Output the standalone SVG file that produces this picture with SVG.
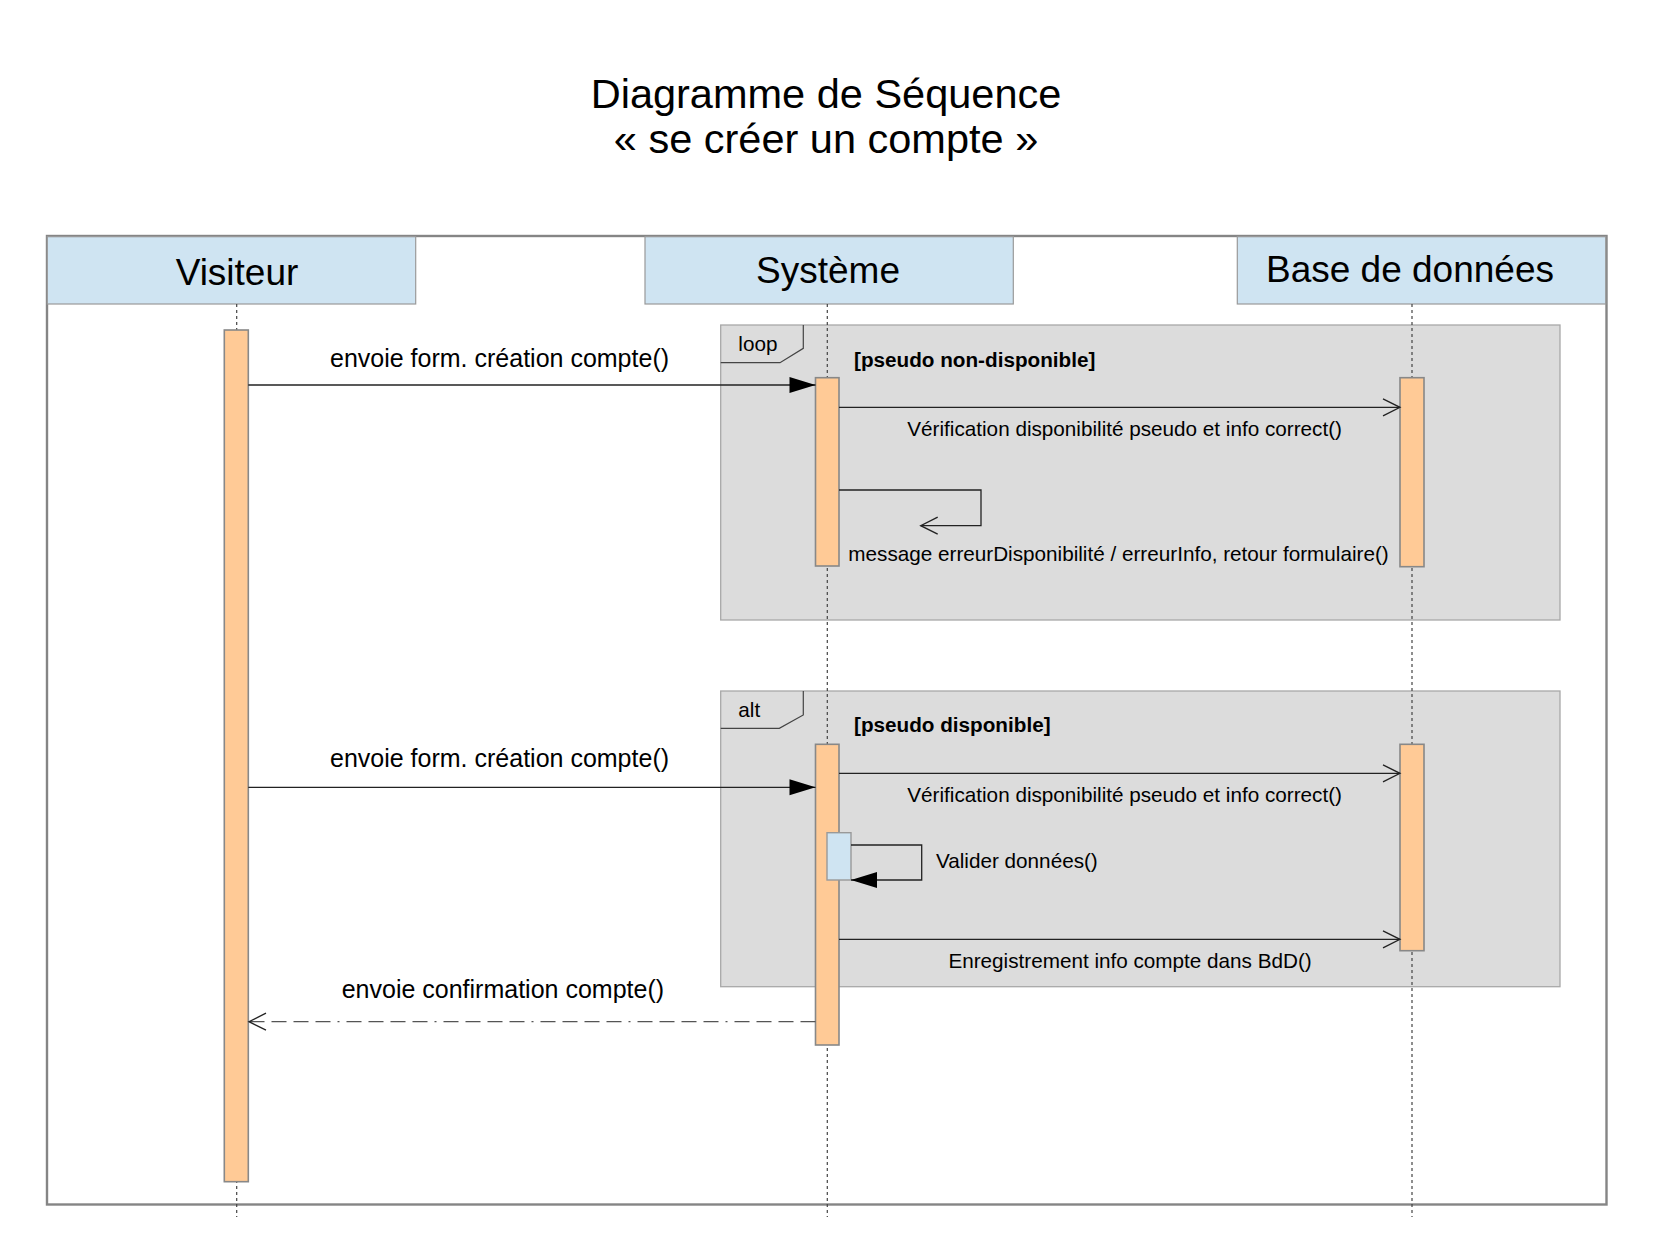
<svg xmlns="http://www.w3.org/2000/svg" width="1655" height="1240" viewBox="0 0 1655 1240">
<defs>
<style>
text{font-family:"Liberation Sans",Arial,sans-serif;fill:#000}
.title{font-size:41.5px;text-anchor:middle}
.head{font-size:37px;text-anchor:middle}
.hbox{fill:#cfe4f2;stroke:#999;stroke-width:1.2}
.msgL{font-size:25px}
.msgS{font-size:20.7px}
.guard{font-size:20.7px;font-weight:bold}
.frag{fill:#dcdcdc;stroke:#a8a8a8;stroke-width:1.3}
.tab{fill:none;stroke:#444;stroke-width:1.2}
.life{stroke:#444;stroke-width:1.2;stroke-dasharray:3,3;fill:none}
.act{fill:#ffca96;stroke:#888;stroke-width:1.6}
.actB{fill:#cfe4f2;stroke:#999;stroke-width:1.4}
.msg{stroke:#222;stroke-width:1.3;fill:none}
.ret{stroke:#555;stroke-width:1.3;fill:none;stroke-dasharray:15,7,15,7,15,7,15,7,2,7}
</style>
<marker id="filled" markerUnits="userSpaceOnUse" markerWidth="27" markerHeight="17" refX="26" refY="8" orient="auto" overflow="visible">
<path d="M0,0 L26,8 L0,16 Z" fill="#000"/>
</marker>
<marker id="open" markerUnits="userSpaceOnUse" markerWidth="18" markerHeight="18" refX="17" refY="9" orient="auto" overflow="visible">
<path d="M0,0.5 L17,9 L0,17.5" fill="none" stroke="#222" stroke-width="1.3"/>
</marker>
</defs>
<rect width="1655" height="1240" fill="#fff"/>
<g id="title">
<text class="title" x="826" y="108">Diagramme de Séquence</text>
<text class="title" x="826" y="153">« se créer un compte »</text>
</g>
<g id="frame">
<rect x="47" y="236" width="1559.5" height="968.5" fill="#fff" stroke="#858585" stroke-width="2.4"/>
</g>
<g id="fragments">
<g id="loop">
<rect class="frag" x="720.7" y="325" width="839.3" height="295"/>
<polyline class="tab" points="720.7,362.7 780,362.7 803.3,348.3 803.3,325"/>
<text class="msgS" x="738.3" y="350.7">loop</text>
<text class="guard" x="854" y="366.7">[pseudo non-disponible]</text>
</g>
<g id="alt">
<rect class="frag" x="720.7" y="691" width="839.3" height="295.7"/>
<polyline class="tab" points="720.7,728.3 779.3,728.3 803.3,715 803.3,691"/>
<text class="msgS" x="738.3" y="716.7">alt</text>
<text class="guard" x="854" y="732.3">[pseudo disponible]</text>
</g>
</g>
<g id="visiteur">
<rect class="hbox" x="47.3" y="236.7" width="368.4" height="67.3"/>
<text class="head" x="237" y="284.5">Visiteur</text>
<line class="life" x1="236.7" y1="304" x2="236.7" y2="1217"/>
<rect class="act" x="224.3" y="330" width="24" height="851.7"/>
</g>
<g id="systeme">
<rect class="hbox" x="645" y="236.7" width="368.3" height="67.3"/>
<text class="head" x="828" y="283">Système</text>
<line class="life" x1="827.3" y1="304" x2="827.3" y2="1217"/>
<rect class="act" x="815.5" y="377.7" width="23.5" height="188.3"/>
<rect class="act" x="815.5" y="744.3" width="23.5" height="300.7"/>
<rect class="actB" x="827" y="832.7" width="24" height="47.3"/>
</g>
<g id="bdd">
<rect class="hbox" x="1237.3" y="236.7" width="368.4" height="67.3"/>
<text class="head" x="1410" y="282">Base de données</text>
<line class="life" x1="1412" y1="304" x2="1412" y2="1217"/>
<rect class="act" x="1400" y="377.7" width="24" height="189"/>
<rect class="act" x="1400" y="744.3" width="24" height="206.4"/>
</g>
<g id="connectors">
<line class="msg" x1="248.3" y1="385" x2="815.5" y2="385" marker-end="url(#filled)"/>
<text class="msgL" x="330" y="366.7">envoie form. création compte()</text>
<line class="msg" x1="839" y1="407.3" x2="1400" y2="407.3" marker-end="url(#open)"/>
<text class="msgS" x="907.3" y="436">Vérification disponibilité pseudo et info correct()</text>
<polyline class="msg" points="839,490 981,490 981,525.7 920.7,525.7" marker-end="url(#open)"/>
<text class="msgS" x="848.3" y="560.7">message erreurDisponibilité / erreurInfo, retour formulaire()</text>
<line class="msg" x1="248.3" y1="787.3" x2="815.5" y2="787.3" marker-end="url(#filled)"/>
<text class="msgL" x="330" y="766.7">envoie form. création compte()</text>
<line class="msg" x1="839" y1="773.3" x2="1400" y2="773.3" marker-end="url(#open)"/>
<text class="msgS" x="907.3" y="801.7">Vérification disponibilité pseudo et info correct()</text>
<polyline class="msg" points="851,845 921.7,845 921.7,880 851,880" marker-end="url(#filled)"/>
<text class="msgS" x="936" y="867.7">Valider données()</text>
<line class="msg" x1="839" y1="939.3" x2="1400" y2="939.3" marker-end="url(#open)"/>
<text class="msgS" x="948.4" y="968.3">Enregistrement info compte dans BdD()</text>
<line class="ret" x1="815.5" y1="1021.7" x2="249" y2="1021.7" marker-end="url(#open)"/>
<text class="msgL" x="341.7" y="998.3">envoie confirmation compte()</text>
</g>
</svg>
